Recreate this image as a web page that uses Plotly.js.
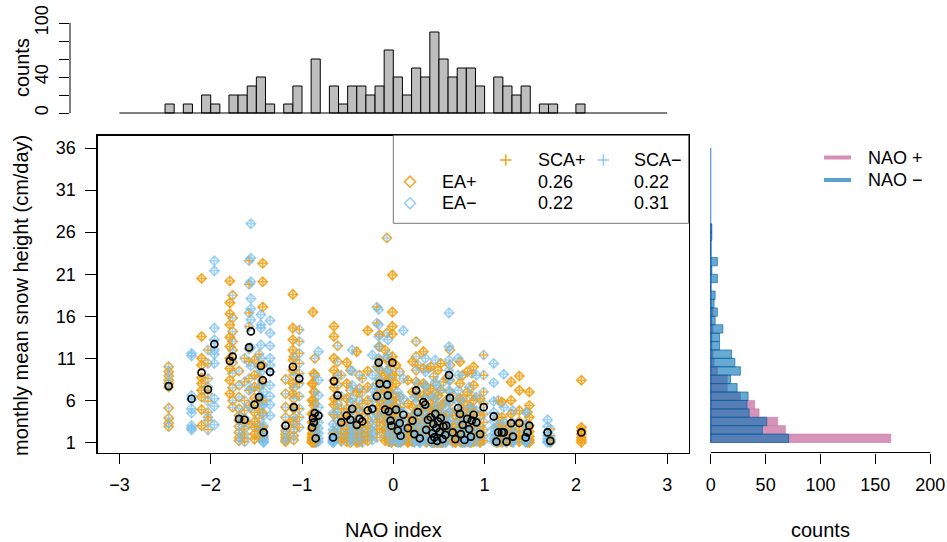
<!DOCTYPE html>
<html><head><meta charset="utf-8">
<script src="https://cdn.plot.ly/plotly-3.0.1.min.js"></script>
<style>html,body{margin:0;padding:0;background:#fff}#chart{width:947px;height:542px}</style>
</head><body><div id="chart"></div>
<script>
// ---------- data ----------
const nao = [-2.46,-2.21,-2.10,-2.03,-1.96,-1.79,-1.76,-1.69,-1.63,-1.56,
 -1.58,-1.52,-1.45,-1.43,-1.47,-1.42,-1.35,-1.18,-1.10,-1.09,
 -1.03,-0.88,-0.86,-0.85,-0.89,-0.82,-0.87,-0.65,-0.66,-0.61,
 -0.57,-0.51,-0.47,-0.45,-0.40,-0.37,-0.34,-0.28,-0.23,-0.18,
 -0.16,-0.15,-0.09,-0.07,-0.06,-0.05,-0.03,-0.02,-0.01,
 0.03,0.05,0.07,0.08,0.11,0.16,0.21,0.23,0.25,0.27,
 0.29,0.33,0.35,0.36,0.38,0.41,0.42,0.43,0.44,0.45,
 0.46,0.47,0.48,0.49,0.51,0.52,0.54,0.55,0.57,0.58,
 0.61,0.62,0.65,0.68,0.71,0.73,0.74,0.76,0.78,0.81,
 0.83,0.85,0.86,0.88,0.91,0.95,0.99,1.10,1.13,1.15,
 1.19,1.21,1.24,1.29,1.31,1.38,1.47,1.45,1.49,1.69,
 1.72,2.06];
const eaPhase = [1,-1,1,-1,-1,1,1,1,-1,-1, -1,1,-1,1,-1,-1,-1,1,1,1,
 -1,1,1,-1,1,-1,1,1,-1,1, -1,1,1,-1,1,1,-1,1,-1,-1, -1,1,1,1,-1,1,-1,1,1,
 1,-1,1,-1,-1,1,1,-1,1,-1, -1,1,-1,1,-1,1,-1,1,-1,1, -1,1,-1,1,-1,1,1,-1,-1,1,
 -1,1,-1,1,-1,1,-1,1,-1,1, -1,1,-1,1,-1,1,-1,-1,1,-1, 1,-1,-1,1,-1,1,1,-1,1,-1, -1,1];
const scaPhase = [-1,-1,1,1,-1,1,-1,-1,1,-1, 1,1,-1,1,1,-1,-1,-1,1,-1,
 1,1,-1,1,1,-1,1,1,-1,-1, 1,1,-1,-1,1,-1,1,1,-1,1, -1,1,1,-1,-1,1,1,-1,1,
 1,-1,-1,1,-1,1,1,-1,-1,1, -1,1,-1,-1,1,1,-1,-1,1,1, -1,-1,1,1,-1,1,-1,1,-1,1,
 -1,-1,1,1,-1,1,1,-1,-1,1, -1,-1,1,1,-1,1,1,-1,-1,1, 1,-1,1,1,-1,1,-1,-1,1,-1, 1,1];
const snowMean = [7.7,6.2,9.3,7.3,12.7,10.7,11.2,3.8,3.7,14.2, 12.3,5.5,10.1,8.4,6.4,2.2,9.4,3.0,10.0,5.2,
 8.6,3.9,4.5,1.5,2.8,4.2,3.4,8.3,1.6,6.6, 3.4,4.2,3.7,5.0,3.1,3.8,3.5,4.8,5.0,6.5,
 10.5,8.0,4.9,7.9,6.6,4.7,3.6,3.0,10.5, 4.9,2.4,3.3,1.8,4.3,2.7,3.6,2.0,7.2,4.6,
 1.5,5.8,5.5,2.5,3.7,4.0,1.3,2.1,3.2,1.6, 4.4,2.7,1.2,3.5,2.3,3.9,1.4,2.9,1.9,3.0,
 9.0,6.3,2.2,1.4,5.1,4.4,2.0,3.1,1.3,3.8, 2.6,1.7,3.6,4.3,3.4,2.0,5.2,4.1,1.1,2.2,
 2.2,2.2,1.1,3.3,1.7,3.3,2.2,1.6,3.0,2.2, 1.2,2.2];
const snow = [
 [10.0,9.4,8.9,8.4,8.0,7.6,5.1,3.9,3.3,2.9],
 [11.6,11.3,6.6,6.1,5.0,4.5,3.0,2.7,2.5],
 [20.5,13.6,11.0,10.2,8.7,8.0,7.2,6.4,4.9,3.0],
 [12.0,10.4,8.6,7.6,6.8,5.9,4.6,4.0,3.6,2.5],
 [22.6,21.4,14.6,13.2,12.0,11.5,10.4,6.2,5.3,3.1],
 [20.2,17.6,16.3,15.0,13.5,12.4,11.0,9.8,8.4,6.8],
 [18.5,15.8,14.2,13.0,12.0,10.5,9.2,7.5,6.0,5.2],
 [9.5,7.8,6.4,5.0,4.2,3.6,2.9,2.2,1.6,1.2],
 [11.0,8.2,6.0,4.8,3.9,3.3,2.6,2.0,1.5,1.1],
 [27.0,22.9,20.1,18.1,16.9,15.6,12.3,10.1,7.4,5.2],
 [22.6,19.8,16.4,14.8,12.1,10.6,8.6,7.2,5.4,3.2],
 [10.8,9.0,7.6,6.3,5.4,4.6,3.5,2.8,2.0,1.4],
 [16.2,15.0,14.6,12.6,11.0,9.4,7.8,6.4,5.4,2.6],
 [22.3,20.1,17.1,10.2,8.2,6.0,4.5,2.8,2.3,1.5],
 [11.5,10.0,8.8,7.5,6.0,5.0,3.9,2.9,2.4,1.6],
 [7.0,5.5,4.2,3.0,2.2,1.8,1.5,1.3,1.1,1.0],
 [15.5,14.0,12.5,11.0,10.2,9.4,7.8,6.5,5.5,4.2],
 [8.5,6.8,5.2,4.0,3.0,2.4,2.0,1.6,1.3,1.1],
 [18.6,14.6,13.2,12.0,10.8,9.6,8.0,6.8,5.2,3.5],
 [11.2,9.0,7.5,6.2,5.0,4.0,3.2,2.5,1.8,1.3],
 [14.4,13.0,11.6,10.4,9.2,8.0,6.5,5.0,4.0,2.8],
 [16.5,8.0,6.0,4.5,3.5,2.8,2.2,1.8,1.4,1.1],
 [11.0,9.0,7.0,5.6,4.5,3.6,2.8,2.2,1.6,1.2],
 [4.0,3.0,2.2,1.8,1.4,1.2,1.1,1.0,1.0],
 [8.0,6.0,4.4,3.4,2.6,2.0,1.6,1.3,1.1,1.0],
 [11.8,8.4,6.6,5.2,4.2,3.4,2.7,2.1,1.5,1.1],
 [9.2,7.0,5.4,4.2,3.3,2.6,2.0,1.6,1.2,1.0],
 [14.8,13.6,11.0,9.6,8.4,7.5,6.2,5.5,4.3,2.2],
 [4.5,3.2,2.5,2.0,1.6,1.3,1.2,1.1,1.0,1.0],
 [12.5,10.6,9.0,7.8,6.6,5.6,4.6,3.6,2.6,1.8],
 [9.0,6.5,5.0,4.0,3.2,2.6,2.0,1.6,1.3,1.1],
 [10.5,8.0,6.2,5.0,4.2,3.4,2.6,2.0,1.5,1.1],
 [9.6,7.2,5.8,4.6,3.7,3.0,2.4,1.9,1.4,1.0],
 [12.0,9.5,7.8,6.2,5.0,4.0,3.2,2.5,1.8,1.2],
 [11.8,7.0,5.0,3.8,3.0,2.4,1.9,1.5,1.2,1.0],
 [9.0,7.4,6.0,4.8,3.8,3.0,2.3,1.8,1.4,1.1],
 [8.6,7.0,5.6,4.4,3.4,2.8,2.2,1.7,1.3,1.0],
 [14.3,9.5,7.6,6.0,4.8,3.8,3.0,2.3,1.7,1.2],
 [11.4,9.0,7.4,6.2,5.0,4.0,3.2,2.4,1.8,1.3],
 [17.1,15.2,10.0,8.0,6.6,5.4,4.4,3.4,2.5,1.6],
 [16.8,15.0,13.6,12.4,11.0,9.8,8.6,7.4,6.2,4.2],
 [13.8,12.4,10.8,9.6,8.4,7.2,6.0,5.0,3.8,2.6],
 [12.0,9.0,7.2,6.0,5.0,4.2,3.4,2.6,1.8,1.2],
 [25.3,14.0,11.0,9.4,8.0,6.8,5.6,4.4,3.4,2.2],
 [13.2,11.4,9.6,8.0,6.8,5.8,4.8,3.8,2.8,1.8],
 [10.6,8.6,7.0,5.8,4.8,4.0,3.2,2.4,1.6,1.1],
 [10.0,7.0,5.4,4.3,3.6,2.9,2.3,1.8,1.4,1.1],
 [8.8,6.0,4.6,3.6,3.0,2.4,1.9,1.5,1.2,1.0],
 [20.9,16.5,14.8,13.9,11.2,9.0,7.6,6.0,4.4,2.8],
 [10.2,8.0,6.4,5.2,4.4,3.6,2.8,2.0,1.5,1.1],
 [7.0,5.0,3.6,2.6,2.0,1.6,1.3,1.1,1.0],
 [9.4,6.4,4.8,3.6,2.8,2.2,1.7,1.3,1.1],
 [5.2,3.6,2.6,1.9,1.5,1.2,1.1,1.0],
 [14.3,8.6,6.2,4.6,3.4,2.6,2.0,1.5,1.2],
 [8.4,5.6,4.0,2.9,2.2,1.7,1.3,1.1,1.0],
 [10.6,7.0,5.2,4.0,3.1,2.4,1.8,1.4,1.1],
 [6.4,4.4,3.0,2.2,1.7,1.3,1.1,1.0],
 [13.0,11.2,9.6,8.2,7.0,5.8,4.6,3.4,2.2],
 [10.2,8.0,6.4,5.0,3.8,2.9,2.2,1.6,1.2],
 [4.2,3.0,2.2,1.6,1.3,1.1,1.0,1.0],
 [11.8,9.8,8.0,6.6,5.4,4.3,3.3,2.4,1.6],
 [11.0,9.4,7.8,6.4,5.2,4.2,3.2,2.4,1.7],
 [7.6,5.2,3.7,2.7,2.0,1.5,1.2,1.0],
 [9.8,6.8,5.0,3.8,2.9,2.2,1.7,1.3,1.1],
 [10.0,7.4,5.6,4.3,3.3,2.5,1.9,1.4,1.1],
 [3.6,2.4,1.7,1.3,1.1,1.0,1.0],
 [6.6,4.4,3.1,2.2,1.7,1.3,1.1,1.0],
 [8.8,6.2,4.6,3.4,2.6,2.0,1.5,1.2,1.0],
 [4.8,3.2,2.3,1.7,1.3,1.1,1.0],
 [10.8,8.2,6.2,4.8,3.6,2.7,2.0,1.4,1.1],
 [7.8,5.4,3.9,2.9,2.2,1.7,1.3,1.1],
 [3.0,2.0,1.5,1.2,1.1,1.0,1.0],
 [9.6,6.6,4.9,3.7,2.8,2.1,1.6,1.2,1.0],
 [7.2,4.8,3.4,2.5,1.9,1.4,1.2,1.0],
 [10.4,7.2,5.4,4.1,3.1,2.3,1.7,1.3,1.0],
 [4.0,2.7,1.9,1.4,1.2,1.0,1.0],
 [8.2,5.6,4.1,3.0,2.3,1.8,1.4,1.1],
 [5.6,3.8,2.7,2.0,1.5,1.2,1.0,1.0],
 [8.6,6.0,4.3,3.2,2.4,1.8,1.4,1.1],
 [16.4,12.4,10.8,9.6,8.4,7.2,6.0,4.6,3.2,2.0],
 [12.0,10.2,8.4,7.0,5.8,4.6,3.6,2.6,1.8],
 [6.6,4.6,3.2,2.3,1.7,1.3,1.1,1.0],
 [4.2,2.8,2.0,1.5,1.2,1.0,1.0],
 [11.0,9.0,7.2,5.8,4.6,3.6,2.7,2.0,1.4],
 [10.6,8.0,6.2,4.8,3.7,2.8,2.1,1.5,1.1],
 [6.0,4.2,3.0,2.2,1.6,1.3,1.1,1.0],
 [9.0,6.2,4.6,3.4,2.6,2.0,1.5,1.2,1.0],
 [3.8,2.5,1.8,1.3,1.1,1.0,1.0],
 [9.4,7.0,5.4,4.2,3.2,2.5,1.9,1.4,1.1],
 [7.6,5.2,3.8,2.8,2.1,1.6,1.2,1.0],
 [5.2,3.4,2.4,1.8,1.4,1.1,1.0],
 [9.2,6.6,5.0,3.8,2.9,2.2,1.6,1.2],
 [10.0,7.8,6.0,4.7,3.6,2.7,2.0,1.4,1.1],
 [9.0,6.4,4.8,3.6,2.7,2.0,1.5,1.1],
 [6.2,4.2,2.9,2.1,1.6,1.2,1.0],
 [11.4,9.0,7.0,5.6,4.4,3.4,2.5,1.8,1.2],
 [10.4,8.1,5.9,4.6,3.5,2.7,2.0,1.5,1.1],
 [2.8,1.9,1.4,1.1,1.0,1.0],
 [6.0,4.0,2.9,2.1,1.6,1.2,1.0],
 [5.8,4.0,2.9,2.2,1.6,1.2,1.0],
 [9.1,5.2,3.4,2.4,1.7,1.3,1.1],
 [3.0,2.0,1.5,1.2,1.0,1.0],
 [8.2,6.0,4.4,3.3,2.5,1.9,1.4,1.1],
 [4.8,3.3,2.4,1.8,1.3,1.1,1.0],
 [8.9,7.2,4.8,3.5,2.6,1.9,1.4,1.1],
 [4.6,3.1,2.2,1.6,1.3,1.1,1.0],
 [4.6,3.2,2.3,1.7,1.3,1.1,1.0],
 [7.0,5.4,4.0,3.0,2.3,1.7,1.3,1.0],
 [3.7,2.9,2.2,1.8,1.4,1.1,1.0],
 [2.6,1.8,1.4,1.2,1.0,1.0],
 [8.4,2.8,2.4,2.0,1.6,1.3,1.0]
];
// top histogram of NAO index (bins of 0.1)
const naoBinCenters = [-2.45,-2.25,-2.05,-1.95,-1.75,-1.65,-1.55,-1.45,-1.35,-1.15,-1.05,-0.85,-0.65,-0.55,-0.45,-0.35,-0.25,-0.15,-0.05,
 0.05,0.15,0.25,0.35,0.45,0.55,0.65,0.75,0.85,0.95,1.15,1.25,1.35,1.45,1.65,1.75,2.05];
const naoBinCounts = [10,10,20,10,20,20,30,40,10,10,30,60,30,10,30,30,20,30,70,
 40,20,50,40,90,60,40,50,50,30,40,30,20,30,10,10,10];
// right histogram of snow height (bins of 1 cm/day)
const snowBinCenters = [1.5,2.5,3.5,4.5,5.5,6.5,7.5,8.5,9.5,10.5,11.5,12.5,13.5,14.5,15.5,16.5,17.5,18.5,19.5,20.5,21.5,22.5,23.5,24.5,25.5,26.5];
const countsNaoPos = [164,68,61,44,40,27,15,15,6,3,2,1,1,2,1,2,0,0,0,0,0,0,0,0,0,0];
const countsNaoNeg = [71,47,51,35,33,34,24,18,27,22,19,8,8,11,4,6,3,4,0,6,1,6,0,0,1,1];
const xTicks = [-3,-2,-1,0,1,2,3];
const yTicks = [1,6,11,16,21,26,31,36];
const histYTicks = [0,20,40,60,80,100];
const histYLabels = ['0','','40','','','100'];
const countTicks = [0,50,100,150,200];

// ---------- geometry helpers ----------
const W = 947, H = 542;
const X = p => p / W, Y = p => 1 - p / H;
const FONT = 'Liberation Sans, Arial, Helvetica, sans-serif';
const ORANGE = 'rgba(242,160,20,0.88)';
const BLUE = 'rgba(120,190,238,0.68)';

// flatten points
const pts = {x:[], y:[], ea:[], sca:[]};
nao.forEach((v, i) => snow[i].forEach(s => {
  pts.x.push(v); pts.y.push(s); pts.ea.push(eaPhase[i]); pts.sca.push(scaPhase[i]);
}));
function pick(key, sign) {
  const xs = [], ys = [];
  pts.x.forEach((v, i) => { if (pts[key][i] === sign) { xs.push(v); ys.push(pts.y[i]); } });
  return {xs, ys};
}
const eaP = pick('ea', 1), eaN = pick('ea', -1), scP = pick('sca', 1), scN = pick('sca', -1);

const dia = (d, col) => ({type:'scatter', mode:'markers', x:d.xs, y:d.ys, xaxis:'x', yaxis:'y',
  marker:{symbol:'diamond-open', size:7.2, color:col, line:{width:1.6, color:col}}, showlegend:false, hoverinfo:'skip'});
const crs = (d, col) => ({type:'scatter', mode:'markers', x:d.xs, y:d.ys, xaxis:'x', yaxis:'y',
  marker:{symbol:'cross-thin-open', size:6.2, color:col, line:{width:1.5, color:col}}, showlegend:false, hoverinfo:'skip'});

const traces = [
  dia(eaP, ORANGE), dia(eaN, BLUE), crs(scP, ORANGE), crs(scN, BLUE),
  {type:'scatter', mode:'markers', x:nao, y:snowMean, xaxis:'x', yaxis:'y',
   marker:{symbol:'circle-open', size:7, color:'#000', line:{width:1.7, color:'#000'}}, showlegend:false, hoverinfo:'skip'},
  {type:'bar', x:naoBinCenters, y:naoBinCounts, width:0.1, xaxis:'x2', yaxis:'y2',
   marker:{color:'#bebebe', line:{color:'#000', width:1}}, showlegend:false, hoverinfo:'skip'},
  {type:'bar', orientation:'h', y:snowBinCenters, x:countsNaoPos, width:1, xaxis:'x3', yaxis:'y3',
   marker:{color:'rgba(204,121,167,0.8)', line:{color:'rgba(204,121,167,0.6)', width:1}}, showlegend:false, hoverinfo:'skip'},
  {type:'bar', orientation:'h', y:snowBinCenters, x:countsNaoNeg, width:1, xaxis:'x3', yaxis:'y3',
   marker:{color:'rgba(0,114,178,0.6)', line:{color:'rgba(0,90,160,0.6)', width:1}}, showlegend:false, hoverinfo:'skip'}
];

const tickfont = {family:FONT, size:18, color:'#000'};
const mainYDomain = [Y(452.5), Y(135.5)];
const mainYRange = [-0.19, 37.49];

function diamondPath(cx, cy, r) {
  return `M ${X(cx+r)},${Y(cy)} L ${X(cx)},${Y(cy+r)} L ${X(cx-r)},${Y(cy)} L ${X(cx)},${Y(cy-r)} Z`;
}
function plusShapes(cx, cy, r, col) {
  return [
    {type:'line', xref:'paper', yref:'paper', x0:X(cx-r), x1:X(cx+r), y0:Y(cy), y1:Y(cy), line:{color:col, width:1.6}},
    {type:'line', xref:'paper', yref:'paper', x0:X(cx), x1:X(cx), y0:Y(cy-r), y1:Y(cy+r), line:{color:col, width:1.6}}
  ];
}
const LEG_OR = 'rgba(242,160,20,0.9)', LEG_BL = 'rgba(120,190,238,0.75)';

const shapes = [
  {type:'line', xref:'x2', yref:'y2', x0:-3, x1:3, y0:0, y1:0, line:{color:'#000', width:1}},
  {type:'line', xref:'paper', yref:'y2', x0:X(70), x1:X(70), y0:0, y1:100, line:{color:'#000', width:1}},
  {type:'line', xref:'x3', yref:'paper', x0:0, x1:200, y0:Y(452.5), y1:Y(452.5), line:{color:'#000', width:1}},
  {type:'line', xref:'x3', yref:'y3', x0:0, x1:0, y0:1, y1:36, line:{color:'rgba(0,90,170,0.8)', width:1}},
  {type:'rect', xref:'paper', yref:'paper', x0:X(393.3), x1:X(688.5), y0:Y(223.3), y1:Y(135.5), line:{color:'#777', width:1}},
  {type:'path', xref:'paper', yref:'paper', path:diamondPath(410, 181.7, 5.5), line:{color:LEG_OR, width:1.6}},
  {type:'path', xref:'paper', yref:'paper', path:diamondPath(410, 203.3, 5.5), line:{color:LEG_BL, width:1.6}},
  ...plusShapes(505.7, 160, 5.8, LEG_OR),
  ...plusShapes(603.3, 160, 5.8, LEG_BL),
  {type:'line', xref:'paper', yref:'paper', x0:X(824), x1:X(851), y0:Y(157.5), y1:Y(157.5), line:{color:'rgba(204,121,167,0.85)', width:4}},
  {type:'line', xref:'paper', yref:'paper', x0:X(824), x1:X(851), y0:Y(180), y1:Y(180), line:{color:'rgba(0,114,178,0.65)', width:4}}
];

const ann = (txt, x, y, opt = {}) => Object.assign({
  text:txt, xref:'paper', yref:'paper', x:X(x), y:Y(y), showarrow:false,
  xanchor:'left', yanchor:'middle', font:{family:FONT, size:18, color:'#000'}
}, opt);

const annotations = [
  ann('SCA+', 535.7, 160), ann('SCA\u2212', 631.7, 160),
  ann('EA+', 440, 181.7), ann('0.26', 535.7, 181.7), ann('0.22', 631.7, 181.7),
  ann('EA\u2212', 440, 203.3), ann('0.22', 535.7, 203.3), ann('0.31', 631.7, 203.3),
  ann('NAO +', 866, 157.5), ann('NAO \u2212', 866, 180),
  ann('NAO index', 393.3, 530, {xanchor:'center', font:{family:FONT, size:20, color:'#000'}}),
  ann('counts', 820, 530, {xanchor:'center', font:{family:FONT, size:20, color:'#000'}}),
  ann('monthly mean snow height (cm/day)', 21, 296, {xanchor:'center', textangle:-90, font:{family:FONT, size:20, color:'#000'}}),
  ann('counts', 22, 68, {xanchor:'center', textangle:-90, font:{family:FONT, size:20, color:'#000'}})
];

const layout = {
  width:W, height:H, margin:{l:0, r:0, t:0, b:0},
  paper_bgcolor:'#fff', plot_bgcolor:'rgba(0,0,0,0)',
  barmode:'overlay', bargap:0, showlegend:false, hovermode:false,
  font:{family:FONT, size:18, color:'#000'},
  xaxis:{domain:[X(97.5), X(689.1)], range:[-3.24, 3.24], anchor:'y',
    tickvals:xTicks, ticks:'outside', ticklen:10, tickwidth:1, tickcolor:'#000', tickfont,
    ticklabelstandoff:6,
    showline:true, mirror:true, linecolor:'#000', linewidth:1.2, showgrid:false, zeroline:false},
  yaxis:{domain:mainYDomain, range:mainYRange, anchor:'x',
    tickvals:yTicks, ticks:'outside', ticklen:11, tickwidth:1, tickcolor:'#000', tickfont,
    ticklabelstandoff:6,
    showline:true, mirror:true, linecolor:'#000', linewidth:1.2, showgrid:false, zeroline:false},
  xaxis2:{domain:[X(70), X(716.6)], range:[-3.541, 3.541], anchor:'y2', visible:false},
  yaxis2:{domain:[Y(116.6), Y(19.4)], range:[-4, 104], anchor:'x2',
    tickvals:histYTicks, ticktext:histYLabels, ticks:'outside', ticklen:10, tickwidth:1, tickcolor:'#000',
    tickangle:-90, tickfont, ticklabelstandoff:4,
    showline:false, showgrid:false, zeroline:false},
  xaxis3:{domain:[X(702), X(939)], range:[-8, 208], anchor:'y3',
    tickvals:countTicks, ticks:'outside', ticklen:10, tickwidth:1, tickcolor:'#000', tickfont,
    ticklabelstandoff:6,
    showline:false, showgrid:false, zeroline:false},
  yaxis3:{domain:mainYDomain, range:mainYRange, anchor:'x3', visible:false},
  shapes, annotations
};

Plotly.newPlot('chart', traces, layout, {staticPlot:true, displayModeBar:false});
</script></body></html>
